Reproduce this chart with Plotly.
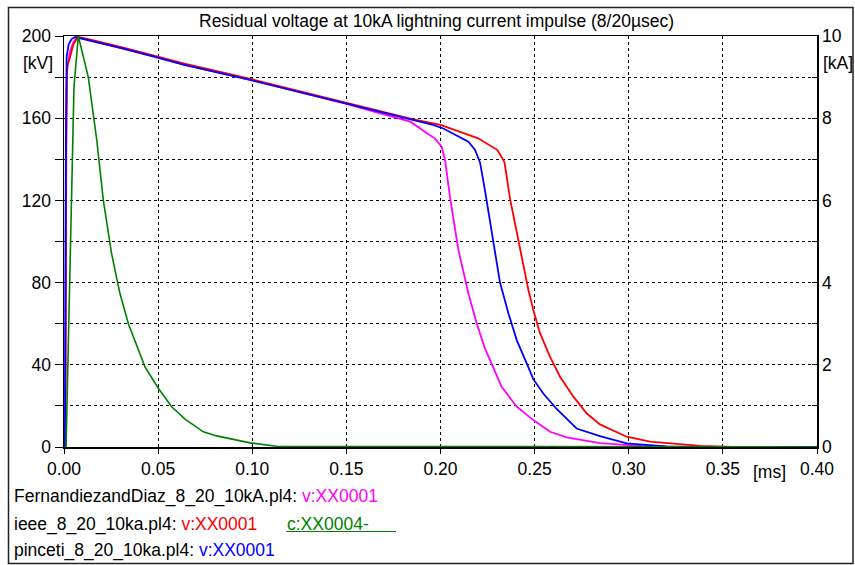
import plotly.graph_objects as go

# ---------------- data ----------------
t_fernandiez = [0, 0.0006, 0.0011, 0.0015, 0.003, 0.005, 0.007, 0.013, 0.031, 0.048, 0.064, 0.0995,
                0.15, 0.168, 0.184, 0.193, 0.197, 0.2006, 0.2024, 0.205, 0.2095, 0.2148, 0.2192,
                0.2236, 0.2281, 0.2325, 0.2405, 0.2493, 0.2582, 0.267, 0.2847, 0.302, 0.32, 0.34, 0.4]
v_fernandiez = [0, 0, 150, 182, 192, 197, 199.5, 198, 194, 190, 186, 178.5,
                167, 162.4, 158.3, 152.6, 150.2, 146.1, 139.7, 121.8, 95.9, 74.8, 60.2,
                48, 38.3, 29.3, 19.6, 13.1, 7.4, 4.7, 1.9, 0.8, 0.2, 0, 0]

t_ieee = [0, 0.0007, 0.0012, 0.0016, 0.003, 0.005, 0.0075, 0.013, 0.031, 0.048, 0.064, 0.0995,
          0.15, 0.168, 0.185, 0.2, 0.22, 0.2303, 0.234, 0.2369, 0.2404, 0.244, 0.2467, 0.2493,
          0.2528, 0.2582, 0.2635, 0.2706, 0.2776, 0.2847, 0.2989, 0.3113, 0.3254, 0.338, 0.355, 0.4]
v_ieee = [0, 0, 140, 185, 189, 196, 199.5, 198.5, 194.5, 190.5, 186.5, 179,
          167.5, 163.5, 159.5, 156.8, 150.2, 144.5, 138.5, 121, 105.6, 88, 76.4, 66.7,
          55.5, 43.9, 34.2, 24.5, 16.4, 11, 5, 2.6, 1.3, 0.5, 0, 0]

t_pinceti = [0, 0.0005, 0.001, 0.0014, 0.0025, 0.004, 0.006, 0.013, 0.031, 0.048, 0.064, 0.0995,
             0.15, 0.168, 0.185, 0.196, 0.2015, 0.2104, 0.2148, 0.2183, 0.221, 0.2236, 0.2281,
             0.2316, 0.2361, 0.2405, 0.2458, 0.2493, 0.2546, 0.2617, 0.2723, 0.2847, 0.2989,
             0.3113, 0.32, 0.335, 0.4]
v_pinceti = [0, 0, 150, 190, 196, 198.5, 199.5, 198, 194, 190, 186, 178.5,
             167, 163, 159, 156.7, 155, 150.7, 148.6, 144.7, 138.5, 125, 100.7,
             80, 65, 52, 40.7, 33, 26, 18.5, 9, 5.3, 1.8,
             0.8, 0.3, 0, 0]

t_current = [0, 0.0011, 0.0053, 0.0076, 0.0129, 0.0174, 0.0209, 0.0253, 0.0297, 0.0342, 0.043,
             0.0501, 0.0572, 0.0643, 0.074, 0.0811, 0.0988, 0.113, 0.4]
i_current = [0, 0, 8.76, 10, 9.0, 7.47, 6.0, 4.7, 3.74, 3.0, 1.95,
             1.43, 0.98, 0.68, 0.37, 0.27, 0.1, 0.02, 0]

x_ticks = [0, 0.05, 0.10, 0.15, 0.20, 0.25, 0.30, 0.35, 0.40]
x_tick_labels = ["0.00", "0.05", "0.10", "0.15", "0.20", "0.25", "0.30", "0.35", "0.40"]
kv_ticks = [0, 20, 40, 60, 80, 100, 120, 140, 160, 180, 200]
kv_tick_labels = ["0", "", "40", "", "80", "", "120", "", "160", "", "200"]
ka_ticks = [0, 1, 2, 3, 4, 5, 6, 7, 8, 9, 10]
ka_tick_labels = ["0", "", "2", "", "4", "", "6", "", "8", "", "10"]

title_text = "Residual voltage at 10kA lightning current impulse (8/20\u00b5sec)"

# ---------------- layout geometry ----------------
W, H = 855, 565
L, R, T, B = 64, 38, 36, 118
PW, PH = W - L - R, H - T - B
FONT = "Liberation Sans, Arial, sans-serif"
FS = 17.5


def px(x):  # window x pixel -> paper fraction
    return (x - L) / PW


def py(y):  # window y pixel -> paper fraction
    return (H - B - y) / PH


fig = go.Figure()
fig.add_trace(go.Scatter(x=t_fernandiez, y=v_fernandiez, mode="lines",
                         line=dict(color="#FF00FF", width=1.8), yaxis="y"))
fig.add_trace(go.Scatter(x=t_ieee, y=v_ieee, mode="lines",
                         line=dict(color="#FF0000", width=1.8), yaxis="y"))
fig.add_trace(go.Scatter(x=t_current, y=i_current, mode="lines",
                         line=dict(color="#008000", width=1.6), yaxis="y2"))
fig.add_trace(go.Scatter(x=t_pinceti, y=v_pinceti, mode="lines",
                         line=dict(color="#0000FF", width=1.8), yaxis="y"))

axis_font = dict(family=FONT, size=FS, color="black")

fig.update_layout(
    width=W, height=H,
    margin=dict(l=L, r=R, t=T, b=B, pad=0),
    paper_bgcolor="white", plot_bgcolor="white",
    showlegend=False,
    font=dict(family=FONT, size=FS, color="black"),
    xaxis=dict(range=[0, 0.4], tickvals=x_ticks, ticktext=x_tick_labels,
               showgrid=True, gridcolor="black", griddash="dot", gridwidth=1,
               showline=True, linecolor="black", linewidth=1.5, mirror=True,
               ticks="outside", ticklen=5, tickcolor="black", tickfont=axis_font,
               zeroline=False, fixedrange=True),
    yaxis=dict(range=[0, 200], tickvals=kv_ticks, ticktext=kv_tick_labels,
               showgrid=True, gridcolor="black", griddash="dot", gridwidth=1,
               showline=True, linecolor="black", linewidth=1.5,
               ticks="outside", ticklen=8, tickcolor="black", tickfont=axis_font,
               zeroline=False, fixedrange=True),
    yaxis2=dict(range=[0, 10], tickvals=ka_ticks, ticktext=ka_tick_labels,
                overlaying="y", side="right", showgrid=False,
                showline=True, linecolor="black", linewidth=1.5,
                ticks="inside", ticklen=5, tickcolor="black", tickfont=axis_font,
                zeroline=False, fixedrange=True),
)

base = dict(xref="paper", yref="paper", showarrow=False, yanchor="middle")
ann = []
ann.append(dict(base, x=px(436), y=py(21), text=title_text, xanchor="center",
                font=dict(family=FONT, size=FS, color="black")))
ann.append(dict(base, x=px(38), y=py(63), text="[kV]", xanchor="center",
                font=dict(family=FONT, size=FS, color="black")))
ann.append(dict(base, x=px(821), y=py(63), text="[kA]", xanchor="left",
                font=dict(family=FONT, size=FS, color="black")))
ann.append(dict(base, x=px(769), y=py(472), text="[ms]", xanchor="center",
                font=dict(family=FONT, size=FS, color="black")))

legend_lines = [
    ("FernandiezandDiaz_8_20_10kA.pl4: ", "v:XX0001", "#FF00FF", 496),
    ("ieee_8_20_10ka.pl4: ", "v:XX0001", "#FF0000", 524),
    ("pinceti_8_20_10ka.pl4: ", "v:XX0001", "#0000FF", 550),
]
for name, sig, col, yy in legend_lines:
    ann.append(dict(base, x=px(12), y=py(yy),
                    text=f"{name}<span style='color:{col}'>{sig}</span>",
                    xanchor="left",
                    font=dict(family=FONT, size=FS, color="black")))
ann.append(dict(base, x=px(285), y=py(524), text="c:XX0004-", xanchor="left",
                font=dict(family=FONT, size=FS, color="#008000")))
fig.update_layout(annotations=ann)

shapes = [
    dict(type="line", xref="paper", yref="paper", x0=px(286), x1=px(396),
         y0=py(531.5), y1=py(531.5), line=dict(color="#008000", width=1.2)),
    dict(type="rect", xref="paper", yref="paper", x0=px(8.5), x1=px(853),
         y0=py(563.5), y1=py(7.5), line=dict(color="#222222", width=1.5),
         fillcolor="rgba(0,0,0,0)"),
]
fig.update_layout(shapes=shapes)

# remove the default 8px page margin so the figure fills the window exactly
fig.write_html("out.html",
               config={"displayModeBar": False, "staticPlot": True},
               post_script="document.body.style.margin='0';"
                           "document.body.style.overflow='hidden';")
